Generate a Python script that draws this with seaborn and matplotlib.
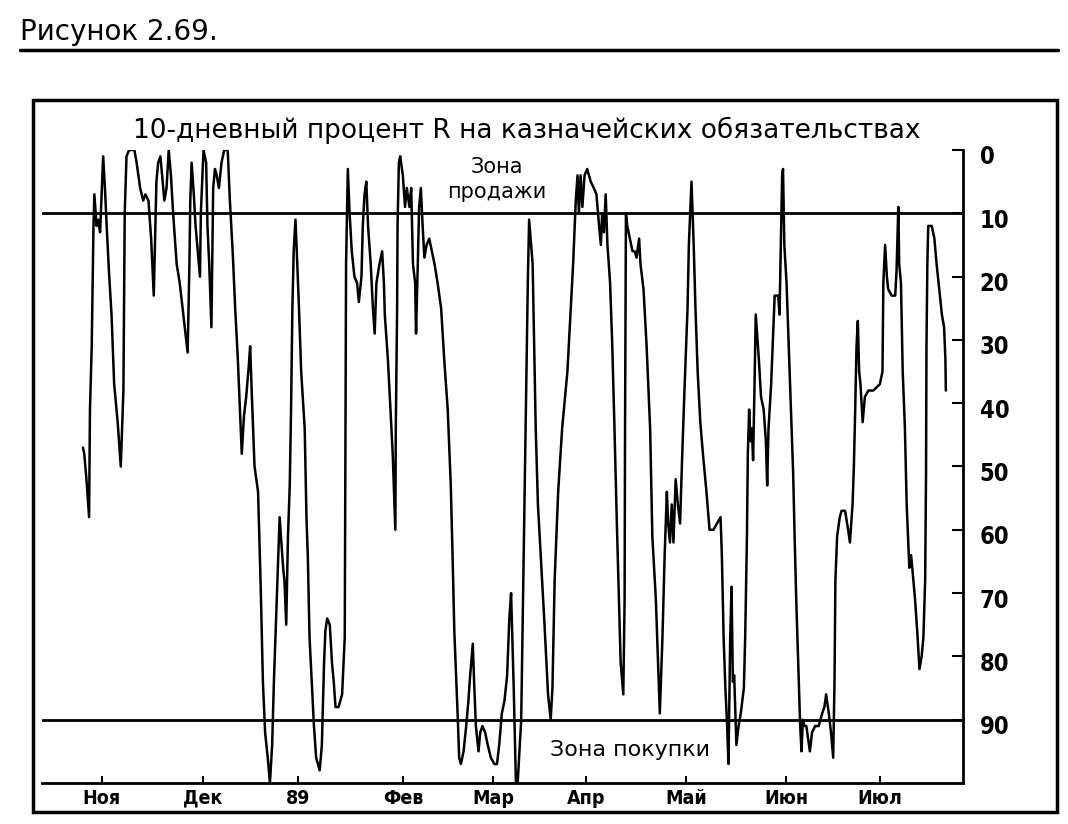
import pandas as pd
import matplotlib
matplotlib.use('Agg')
import matplotlib.pyplot as plt
import matplotlib.transforms as mtransforms
import seaborn as sns
from matplotlib.patches import Rectangle
from matplotlib.lines import Line2D

sns.set_theme(style='white')
plt.rcParams['font.family'] = ['DejaVu Sans']
plt.rcParams['text.color'] = 'black'

# 10-day %R, trading days counted from late Oct 1988
days1 = [0.0, 0.3, 0.8, 1.4, 1.6, 2.0, 2.4, 2.6, 3.1, 3.5,
         3.9, 4.2, 4.6, 5.0, 5.4, 5.9, 6.5, 7.1, 7.9, 8.6,
         9.2, 9.5, 9.9, 10.5, 11.7, 12.2, 13.0, 13.7, 14.2, 14.9,
         15.5, 15.9, 16.1, 16.4, 16.7, 17.1, 17.6, 18.0, 18.5, 19.0,
         19.5, 20.0, 20.5, 21.3, 22.0, 22.8, 23.3, 23.8, 24.2, 24.4,
         24.7, 25.2, 25.6, 26.1, 26.6, 26.8, 27.4, 28.0, 28.3, 28.7,
         29.2, 29.6, 30.0, 30.4, 30.9, 31.5, 32.1, 32.9, 33.4]
r1 = [47, 48, 52, 58, 41, 31, 12, 7, 12, 11,
      13, 8, 1, 6, 12, 19, 26, 37, 43, 50,
      38, 10, 1, 0, 0, 2, 6, 8, 7, 8,
      14, 20, 23, 14, 5, 2, 1, 4, 8, 6,
      0, 4, 10, 18, 21, 26, 29, 32, 18, 8,
      2, 7, 12, 16, 20, 10, 0, 2, 12, 18,
      28, 6, 3, 4, 6, 2, 0, 0, 8]

days2 = [34.1, 34.6, 35.2, 35.8, 36.1, 36.6, 37.1, 37.7, 38.0, 38.4,
         39.0, 39.8, 40.4, 40.9, 41.4, 42.0, 42.5, 43.0, 43.4, 43.9,
         44.3, 44.7, 45.1, 45.5, 45.8, 46.2, 46.6, 47.0, 47.3, 47.6,
         47.9, 48.3, 48.6, 49.1, 49.6, 50.4, 50.8, 51.1, 51.5, 52.0,
         52.5, 53.0, 53.8, 54.3, 54.8, 55.1, 55.5, 56.1, 56.6, 57.0,
         57.4, 58.1, 58.9, 59.5, 59.6, 59.7, 59.8, 60.1, 60.2, 60.6,
         61.1, 61.7, 62.3, 62.7, 63.3, 63.6, 64.0, 64.4, 64.8, 65.4,
         65.9, 66.3, 66.7, 67.4, 68.0, 68.4]
r2 = [17, 25, 33, 43, 48, 42, 39, 34, 31, 39,
      50, 54, 69, 84, 92, 96, 100, 94, 84, 74,
      66, 58, 62, 66, 68, 75, 61, 53, 41, 25,
      16, 11, 16, 25, 35, 44, 58, 64, 77, 84,
      91, 96, 98, 94, 81, 76, 74, 75, 81, 84,
      88, 88, 86, 77, 58, 38, 18, 6, 3, 10,
      16, 20, 21, 24, 20, 12, 7, 5, 12, 18,
      25, 29, 21, 18, 16, 21]

days3 = [68.6, 69.3, 69.9, 70.4, 70.8, 71.0, 71.1, 71.4, 71.5, 71.8,
         72.1, 72.7, 73.2, 73.6, 74.2, 74.6, 75.0, 75.5, 75.7, 76.1,
         76.4, 76.8, 77.2, 77.6, 78.1, 78.7, 79.3, 79.9, 80.6, 81.4,
         82.1, 82.9, 83.6, 84.0, 84.4, 84.8, 85.2, 85.5, 85.9, 86.5,
         87.1, 87.6, 88.0, 88.6, 88.9, 89.3, 89.9, 90.3, 90.8, 91.4,
         92.0, 92.7, 93.5, 94.1, 94.6, 95.2, 95.8, 96.4, 96.9, 97.3,
         97.9, 98.4, 98.8, 99.6, 100.3, 101.1, 101.4, 102.2]
r3 = [26, 33, 41, 48, 56, 60, 44, 25, 12, 2,
      1, 4, 9, 6, 9, 6, 18, 21, 29, 18,
      9, 6, 12, 17, 15, 14, 16, 18, 21, 25,
      33, 41, 53, 64, 76, 83, 90, 96, 97, 95,
      91, 87, 83, 78, 84, 91, 95, 92, 91, 92,
      94, 96, 97, 97, 94, 89, 87, 83, 74, 70,
      85, 100, 100, 90, 58, 21, 11, 18]

days4 = [102.9, 103.4, 104.2, 104.9, 105.7, 106.3, 106.7, 107.2, 108.0, 108.9,
         110.1, 110.8, 111.4, 112.0, 112.4, 112.7, 113.1, 113.5, 114.0, 114.6,
         115.4, 116.1, 116.7, 117.3, 117.7, 118.0, 118.4, 118.8, 119.2, 119.8,
         120.3, 120.8, 121.3, 121.8, 122.2, 122.8, 123.1, 123.2, 123.3, 123.4,
         123.7, 124.3, 124.9, 125.4, 125.8, 126.4, 126.7, 127.4, 128.1, 128.9,
         129.4, 130.2, 130.7, 131.1, 131.7, 132.2, 132.7, 133.0, 133.4, 133.8,
         134.2, 134.7, 135.2, 135.7, 136.2, 136.7, 137.4, 137.7, 138.3]
r4 = [44, 56, 66, 75, 86, 90, 85, 68, 54, 44,
      35, 26, 18, 8, 4, 10, 4, 9, 4, 3,
      5, 6, 7, 12, 15, 10, 13, 7, 15, 21,
      31, 44, 58, 71, 81, 86, 71, 44, 25, 10,
      12, 14, 16, 16, 17, 14, 18, 22, 31, 44,
      61, 71, 81, 89, 77, 64, 54, 59, 62, 56,
      62, 52, 56, 59, 48, 38, 25, 15, 5]

days5 = [138.8, 139.2, 139.7, 140.3, 140.9, 141.7, 142.4, 143.3, 144.1, 144.9,
         145.2, 145.6, 146.0, 146.4, 146.7, 147.1, 147.4, 147.7, 148.0, 148.5,
         149.0, 149.5, 150.2, 150.5, 150.9, 151.1, 151.4, 151.7, 152.0, 152.3,
         152.6, 152.9, 153.2, 153.6, 154.1, 154.7, 155.2, 155.5, 155.8, 156.4,
         156.8, 157.2, 157.6, 158.0, 158.3, 158.6, 158.9, 159.1, 159.4, 159.9,
         160.4, 160.9, 161.4, 161.7, 162.1, 162.7, 163.0, 163.3, 163.6, 164.0,
         164.4, 164.8, 165.2, 165.7, 166.4, 167.2, 168.0, 168.5, 168.9, 169.5,
         170.0, 170.5, 170.8, 171.0, 171.4, 172.0]
r5 = [15, 25, 35, 43, 48, 54, 60, 60, 59, 58,
      64, 77, 85, 91, 97, 77, 69, 84, 83, 94,
      91, 89, 85, 77, 61, 48, 41, 46, 44, 49,
      38, 26, 29, 33, 39, 41, 46, 53, 44, 37,
      30, 23, 23, 23, 26, 15, 4, 3, 15, 21,
      31, 41, 51, 60, 71, 84, 91, 95, 90, 91,
      91, 93, 95, 92, 91, 91, 89, 88, 86, 89,
      92, 96, 84, 68, 61, 58]

days6 = [172.4, 173.2, 173.9, 174.3, 174.9, 175.2, 175.5, 175.8, 176.1, 176.4,
         176.7, 177.2, 177.7, 178.5, 179.6, 181.1, 181.7, 181.9, 182.3, 182.7,
         183.0, 183.8, 184.6, 184.9, 185.3, 185.5, 185.9, 186.3, 186.8, 187.2,
         187.8, 188.2, 188.6, 189.1, 189.6, 190.1, 190.6, 191.0, 191.4, 191.6,
         191.7, 191.9, 192.1, 192.9, 193.5, 194.0, 194.6, 195.2, 195.7, 196.0,
         196.1]
r6 = [57, 57, 60, 62, 56, 50, 41, 31, 27, 35,
      37, 43, 39, 38, 38, 37, 35, 21, 15, 20,
      22, 23, 23, 19, 9, 18, 21, 35, 44, 56,
      66, 64, 67, 71, 76, 82, 80, 77, 68, 51,
      31, 18, 12, 12, 14, 18, 22, 26, 28, 33,
      38]

month_day = [4.3, 27.3, 48.9, 72.7, 93.2, 114.3, 137.0, 159.8, 181.1]
month_lbl = ['Ноя', 'Дек', '89', 'Фев', 'Мар', 'Апр', 'Май', 'Июн', 'Июл']
r_ticks = [0, 10, 20, 30, 40, 50, 60, 70, 80, 90]
zone_lines = [10, 90]

df = pd.DataFrame({'day': days1 + days2 + days3 + days4 + days5 + days6,
                   'r': r1 + r2 + r3 + r4 + r5 + r6})

narrow = ['Liberation Sans Narrow', 'DejaVu Sans']

fig = plt.figure(figsize=(10.68, 8.24), dpi=100)
ax = fig.add_axes([42 / 1068, 41 / 824, 921 / 1068, 633 / 824])
sns.lineplot(data=df, x='day', y='r', ax=ax, color='black', lw=1.8,
             sort=False, estimator=None)
for lvl in zone_lines:
    ax.axhline(lvl, color='black', lw=2)

ax.set_xlim(-9.3, 200)
ax.set_ylim(100, 0)
ax.set_xlabel('')
ax.set_ylabel('')
ax.set_facecolor('white')

ax.spines[['left', 'top']].set_visible(False)
for s in ['bottom', 'right']:
    ax.spines[s].set_linewidth(2)
    ax.spines[s].set_color('black')

ax.yaxis.tick_right()
ax.set_yticks(r_ticks, [str(t) for t in r_ticks], fontfamily=narrow,
              fontweight='bold', fontstretch='condensed', fontsize=17)
ax.set_xticks(month_day, month_lbl, fontfamily=narrow, fontweight='bold',
              fontstretch='condensed', fontsize=14)
ax.tick_params(axis='y', right=True, left=False, direction='in', length=8,
               width=1.5, pad=12, colors='black')
ax.tick_params(axis='x', bottom=True, direction='in', length=5,
               width=1.5, pad=4, colors='black')

# labels in the book sit a little below their ticks
shift = mtransforms.ScaledTranslation(0, -5 / 100, fig.dpi_scale_trans)
for lab in ax.get_yticklabels():
    lab.set_transform(lab.get_transform() + shift)

ax.text(94.1, 4.6, 'Зона\nпродажи', ha='center', va='center',
        fontsize=15, linespacing=1.3)
ax.text(124.3, 94.8, 'Зона покупки', ha='center', va='center', fontsize=16)

fig.text(527 / 1068, 1 - 130 / 824,
         '10-дневный процент R на казначейских обязательствах',
         ha='center', va='center', fontsize=19)
fig.text(20 / 1068, 1 - 40 / 824, 'Рисунок 2.69.', fontsize=20,
         va='baseline')
fig.add_artist(Line2D([20 / 1068, 1058 / 1068], [1 - 50 / 824] * 2,
                      color='black', lw=2.5, transform=fig.transFigure))
fig.add_artist(Rectangle((33 / 1068, 12 / 824), 1024 / 1068, 712 / 824,
                         fill=False, lw=2.5, ec='black',
                         transform=fig.transFigure))

fig.savefig('out.png', dpi=100, facecolor='white')
